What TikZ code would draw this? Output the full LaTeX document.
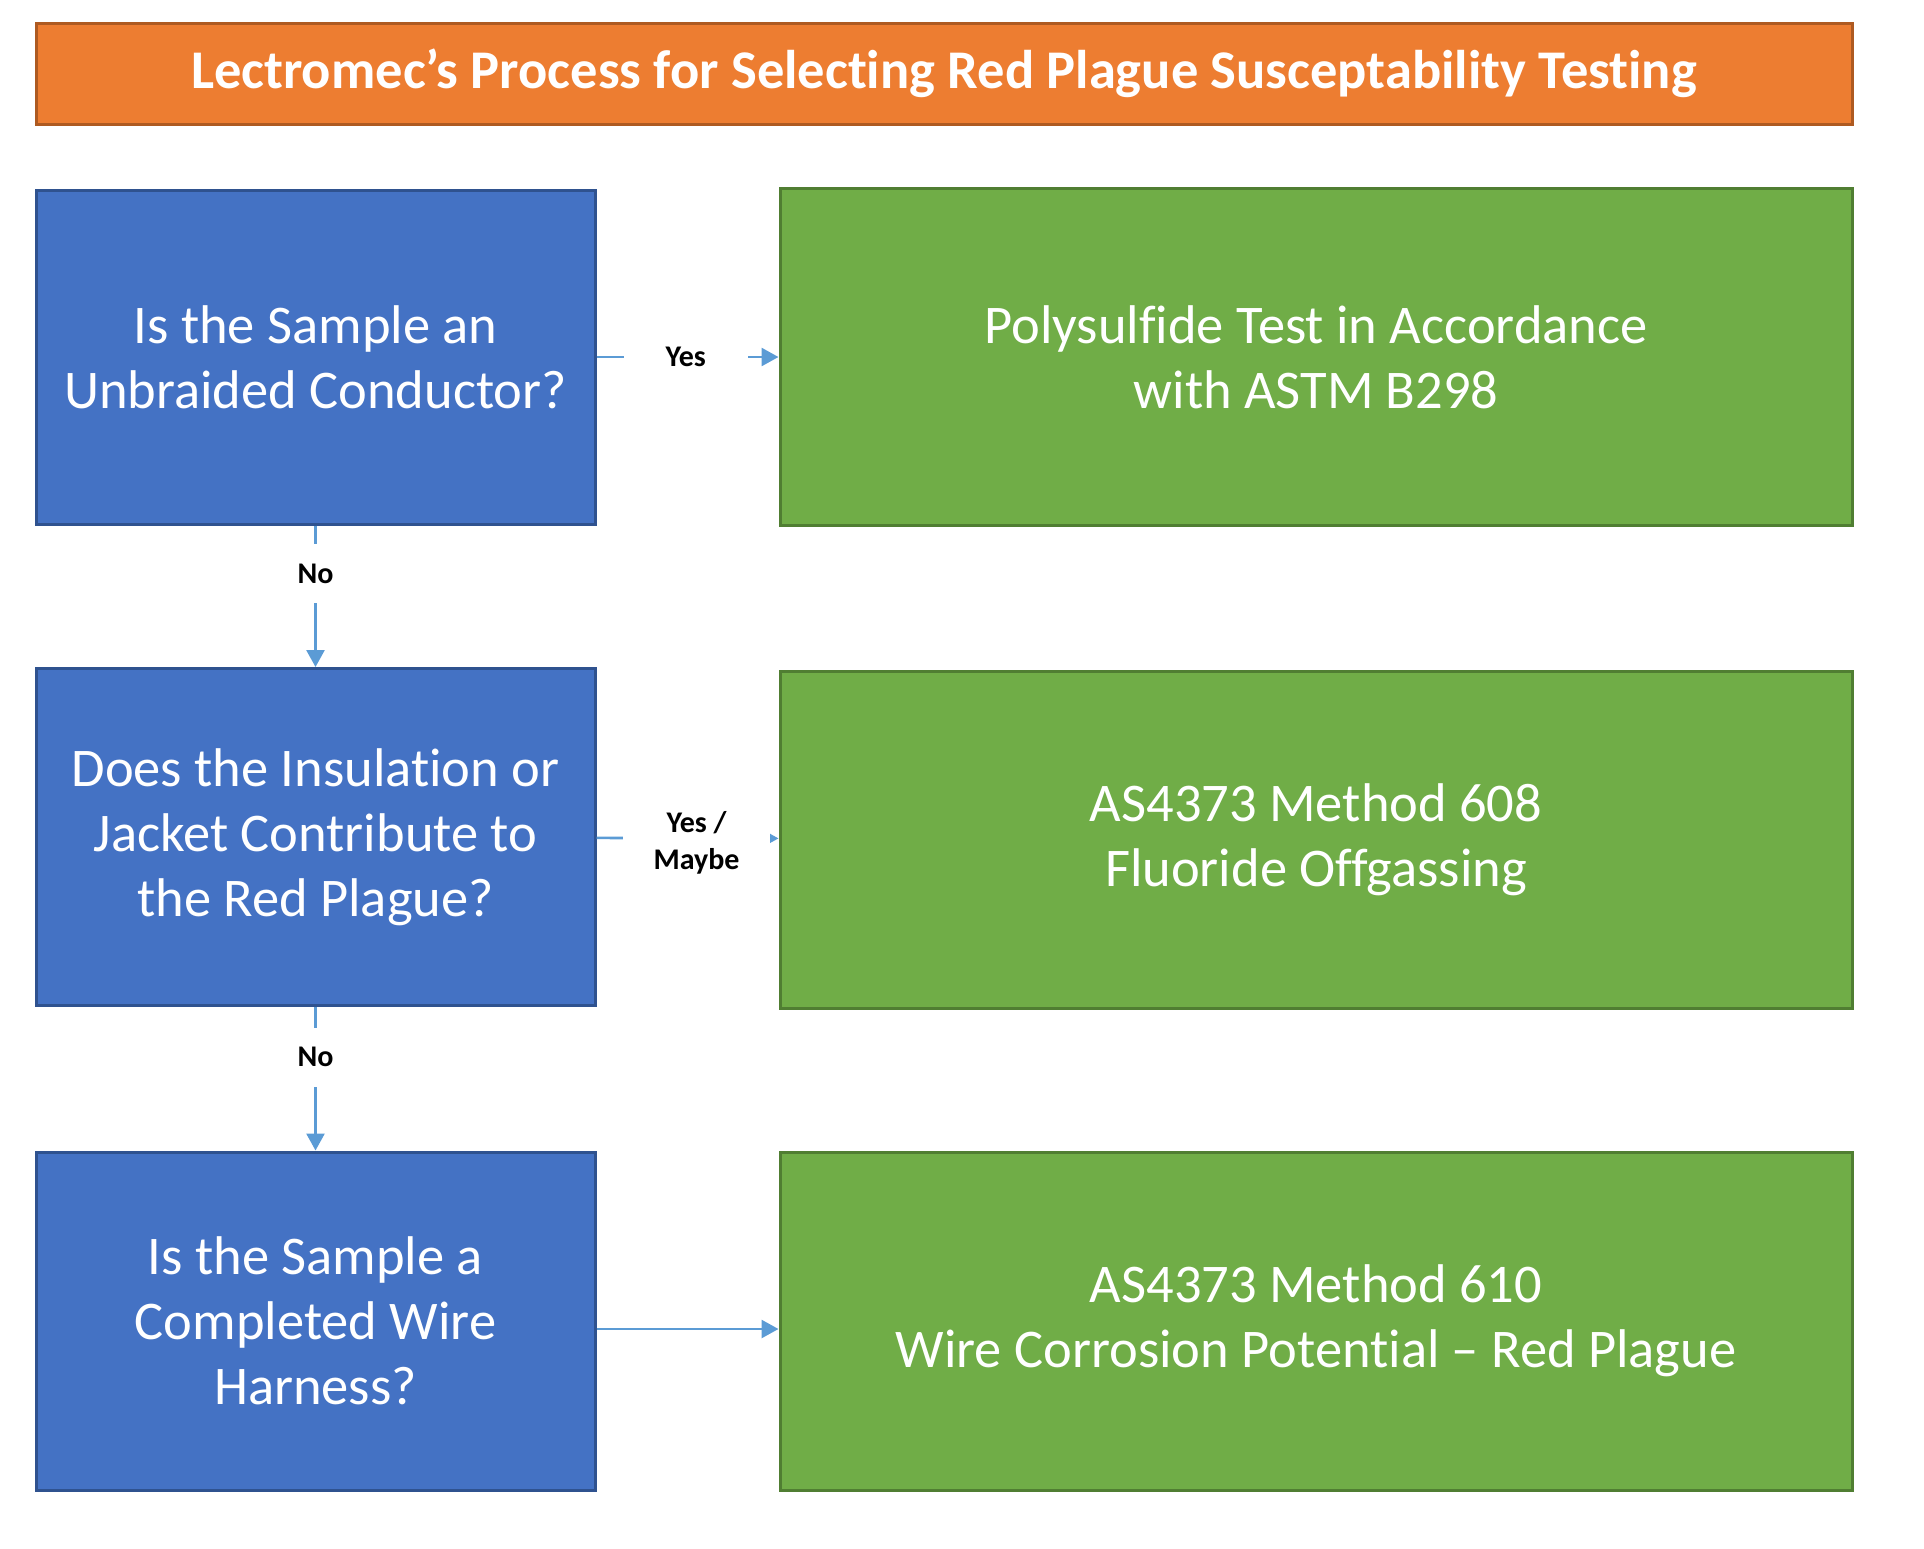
\documentclass[tikz,border=0pt]{standalone}
\usepackage{fontspec}
\setmainfont{Carlito}[Ligatures = NoCommon]
\usepackage{xcolor}
\usepackage{tikz}
\usetikzlibrary{arrows.meta}

\definecolor{qblue}{HTML}{4472C4}
\definecolor{qblueline}{HTML}{2F528F}
\definecolor{tgreen}{HTML}{70AD47}
\definecolor{tgreenline}{HTML}{507E32}
\definecolor{hdorange}{HTML}{ED7D31}
\definecolor{hdorangeline}{HTML}{AE5A21}
\definecolor{flowblue}{HTML}{5B9BD5}

\tikzset{
	qbox/.style = {draw = qblueline, fill = qblue, line width = 3pt, text = white, align = center,
		minimum width = 559pt, font = \fontsize{54.5}{65}\selectfont},
	tbox/.style = {draw = tgreenline, fill = tgreen, line width = 3pt, text = white, align = center,
		minimum width = 1072pt, font = \fontsize{54.5}{65}\selectfont},
	hdbox/.style = {draw = hdorangeline, fill = hdorange, line width = 3pt, text = white,
		minimum width = 1816pt, minimum height = 101pt, font = \fontsize{54.5}{60}\selectfont\bfseries},
	flow/.style = {draw = flowblue, line width = 2.7pt, -{Triangle[length = 17pt, width = 18pt]}},
	ans/.style = {fill = white, text = black, align = center, inner sep = 0pt,
		font = \fontsize{30}{37}\selectfont\bfseries}
}

\begin{document}
\begin{tikzpicture}[x = 1pt, y = -1pt]
		\useasboundingbox (0,0) rectangle (1924,1548);
		
		\node [hdbox] (head) at (944,73.5) {\raisebox{-4pt}{Lectromec’s Process for Selecting Red Plague Susceptability Testing}};
		
		\begin{scope}
			\node [qbox, minimum height = 334pt] (unbraided) at (315.5,357) {Is the Sample an\\Unbraided Conductor?};
			\node [qbox, minimum height = 337pt] (jacket) at (315.5,837) {Does the Insulation or\\Jacket Contribute to\\the Red Plague?};
			\node [qbox, minimum height = 338pt] (harness) at (315.5,1321) {Is the Sample a\\Completed Wire\\Harness?};
		\end{scope}
		
		\begin{scope}
			\node [tbox, minimum height = 337pt] (polysulfide) at (1316,357) {Polysulfide Test in Accordance\\with ASTM B298};
			\node [tbox, minimum height = 337pt] (fluoride) at (1316,840) {AS4373 Method 608\\Fluoride Offgassing};
			\node [tbox, minimum height = 338pt] (corrosion) at (1316,1321) {AS4373 Method 610\\Wire Corrosion Potential – Red Plague};
		\end{scope}
		
		% answers
		\draw [flow] (unbraided) -- node [ans, pos = 0.49, minimum width = 124pt, minimum height = 30pt] {Yes} (polysulfide);
		\draw [flow] (jacket) -- node [ans, pos = 0.55, minimum width = 147pt, minimum height = 70pt, yshift = -5pt] {Yes /\\Maybe} (fluoride);
		\draw [flow] ([yshift = -8pt]harness.east) -- ([yshift = -8pt]corrosion.west);
		\draw [flow] (unbraided) -- node [ans, pos = 0.34, minimum width = 40pt, minimum height = 59pt] {No} (jacket);
		\draw [flow] (jacket) -- node [ans, pos = 0.35, minimum width = 40pt, minimum height = 59pt] {No} (harness);
	\end{tikzpicture}
\end{document}
